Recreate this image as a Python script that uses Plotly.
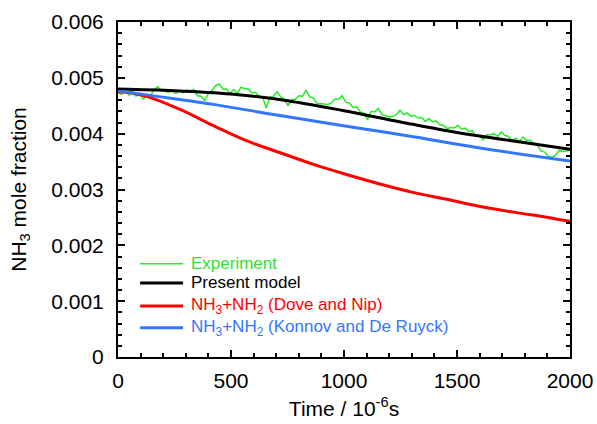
import plotly.graph_objects as go

# ---- data (mole fraction in units of 1e-3, converted below) ----
exp_t = [0, 16, 32, 48, 64, 80, 96, 112, 128, 144, 160, 176, 192, 208, 224, 240, 256, 272, 288, 304,
         320, 336, 352, 368, 384, 400, 416, 432, 448, 464, 480, 496, 512, 528, 544, 560, 576, 592, 608, 624,
         640, 656, 672, 688, 704, 720, 736, 752, 768, 784, 800, 816, 832, 848, 864, 880, 896, 912, 928, 944,
         960, 976, 992, 1008, 1024, 1040, 1056, 1072, 1088, 1104, 1120, 1136, 1152, 1168, 1184, 1200, 1216, 1232, 1248, 1264,
         1280, 1296, 1312, 1328, 1344, 1360, 1376, 1392, 1408, 1424, 1440, 1456, 1472, 1488, 1504, 1520, 1536, 1552, 1568, 1584,
         1600, 1616, 1632, 1648, 1664, 1680, 1696, 1712, 1728, 1744, 1760, 1776, 1792, 1808, 1824, 1840, 1856, 1872, 1888, 1904,
         1920, 1936, 1952, 1968, 1984, 2000]
exp_y = [4.74, 4.70, 4.77, 4.69, 4.75, 4.67, 4.72, 4.62, 4.69, 4.68, 4.79, 4.84, 4.77, 4.76, 4.74, 4.77, 4.72, 4.77, 4.73, 4.78,
         4.76, 4.79, 4.68, 4.67, 4.59, 4.72, 4.77, 4.86, 4.89, 4.80, 4.80, 4.72, 4.79, 4.72, 4.83, 4.81, 4.80, 4.73, 4.74, 4.67,
         4.65, 4.46, 4.66, 4.67, 4.75, 4.66, 4.62, 4.50, 4.61, 4.61, 4.68, 4.67, 4.78, 4.66, 4.64, 4.54, 4.54, 4.53, 4.52, 4.55,
         4.62, 4.62, 4.68, 4.56, 4.55, 4.47, 4.48, 4.39, 4.37, 4.25, 4.40, 4.39, 4.45, 4.34, 4.32, 4.30, 4.31, 4.34, 4.42, 4.34,
         4.37, 4.31, 4.33, 4.28, 4.29, 4.22, 4.27, 4.21, 4.23, 4.16, 4.15, 4.09, 4.11, 4.10, 4.15, 4.08, 4.10, 4.04, 4.05, 3.95,
         3.96, 3.89, 3.98, 3.98, 4.00, 3.95, 4.03, 3.97, 3.95, 3.87, 3.92, 3.86, 3.94, 3.88, 3.88, 3.82, 3.79, 3.69, 3.67, 3.59,
         3.58, 3.61, 3.70, 3.68, 3.69, 3.71]

model_t = [0, 250, 500, 750, 1000, 1250, 1500, 1750, 2000]
model_y = [4.80, 4.77, 4.71, 4.59, 4.41, 4.21, 4.02, 3.87, 3.72]

dove_t = [0, 60, 134, 282, 429, 577, 724, 872, 1018, 1167, 1314, 1460, 1609, 1757, 1903, 2000]
dove_y = [4.75, 4.73, 4.66, 4.42, 4.13, 3.86, 3.65, 3.44, 3.26, 3.09, 2.94, 2.82, 2.69, 2.59, 2.50, 2.43]

konnov_t = [0, 134, 429, 724, 1018, 1314, 1609, 2000]
konnov_y = [4.77, 4.69, 4.52, 4.32, 4.13, 3.94, 3.74, 3.51]

series_names = ["Experiment", "Present model",
                "NH<sub>3</sub>+NH<sub>2</sub> (Dove and Nip)",
                "NH<sub>3</sub>+NH<sub>2</sub> (Konnov and De Ruyck)"]

y_ticks = [0, 0.001, 0.002, 0.003, 0.004, 0.005, 0.006]
y_ticktext = ["0", "0.001", "0.002", "0.003", "0.004", "0.005", "0.006"]
x_ticks = [0, 500, 1000, 1500, 2000]
x_ticktext = ["0", "500", "1000", "1500", "2000"]

GREEN = "#22ee22"
GREEN_TXT = "#33dd33"
RED = "#ff0000"
BLUE = "#3377ff"
FONT = "Liberation Sans, Arial, sans-serif"


def scale(v):
    return [a * 1e-3 for a in v]


fig = go.Figure()
fig.add_trace(go.Scatter(x=exp_t, y=scale(exp_y), mode="lines",
                         line=dict(color=GREEN, width=1.5), name=series_names[0]))
fig.add_trace(go.Scatter(x=model_t, y=scale(model_y), mode="lines",
                         line=dict(color="black", width=3, shape="spline"), name=series_names[1]))
fig.add_trace(go.Scatter(x=dove_t, y=scale(dove_y), mode="lines",
                         line=dict(color=RED, width=3, shape="spline"), name=series_names[2]))
fig.add_trace(go.Scatter(x=konnov_t, y=scale(konnov_y), mode="lines",
                         line=dict(color=BLUE, width=3, shape="spline"), name=series_names[3]))

axis_common = dict(showline=True, linecolor="black", linewidth=2, mirror="allticks",
                   ticks="inside", ticklen=7, tickwidth=1.5, tickcolor="black",
                   showgrid=False, zeroline=False, automargin=False,
                   tickfont=dict(family=FONT, size=21, color="black"),
                   title_font=dict(family=FONT, size=21, color="black"))

fig.update_xaxes(range=[0, 2000], tickvals=x_ticks, ticktext=x_ticktext,
                 minor=dict(dtick=100, ticks="inside", ticklen=4, tickwidth=1.5, tickcolor="black"),
                 ticklabelstandoff=4,
                 title_text="Time / 10<sup>-6</sup>s", title_standoff=10, **axis_common)
fig.update_yaxes(range=[0, 0.006], tickvals=y_ticks, ticktext=y_ticktext,
                 minor=dict(dtick=0.0002, ticks="inside", ticklen=4, tickwidth=1.5, tickcolor="black"),
                 ticklabelstandoff=8,
                 title_text="NH<sub>3</sub> mole fraction", title_standoff=19, **axis_common)

# manual legend (line samples + coloured labels)
leg_colors = [GREEN, "black", RED, BLUE]
leg_text_colors = [GREEN_TXT, "black", RED, BLUE]
leg_widths = [1.5, 3, 3, 3]
leg_y = [0.278, 0.221, 0.152, 0.087]
for name, c, tc, w, yy in zip(series_names, leg_colors, leg_text_colors, leg_widths, leg_y):
    fig.add_shape(type="line", xref="paper", yref="paper", x0=0.049, x1=0.144, y0=yy, y1=yy,
                  line=dict(color=c, width=w))
    fig.add_annotation(xref="paper", yref="paper", x=0.157, y=yy, xanchor="left", yanchor="middle",
                       text=name, showarrow=False, align="left",
                       font=dict(family=FONT, size=17, color=tc))

fig.update_layout(
    width=597, height=424,
    margin=dict(l=118, r=27, t=22, b=67),
    paper_bgcolor="white", plot_bgcolor="white",
    font=dict(family=FONT, size=17, color="black"),
    showlegend=False,
)

fig.write_html("out.html")
